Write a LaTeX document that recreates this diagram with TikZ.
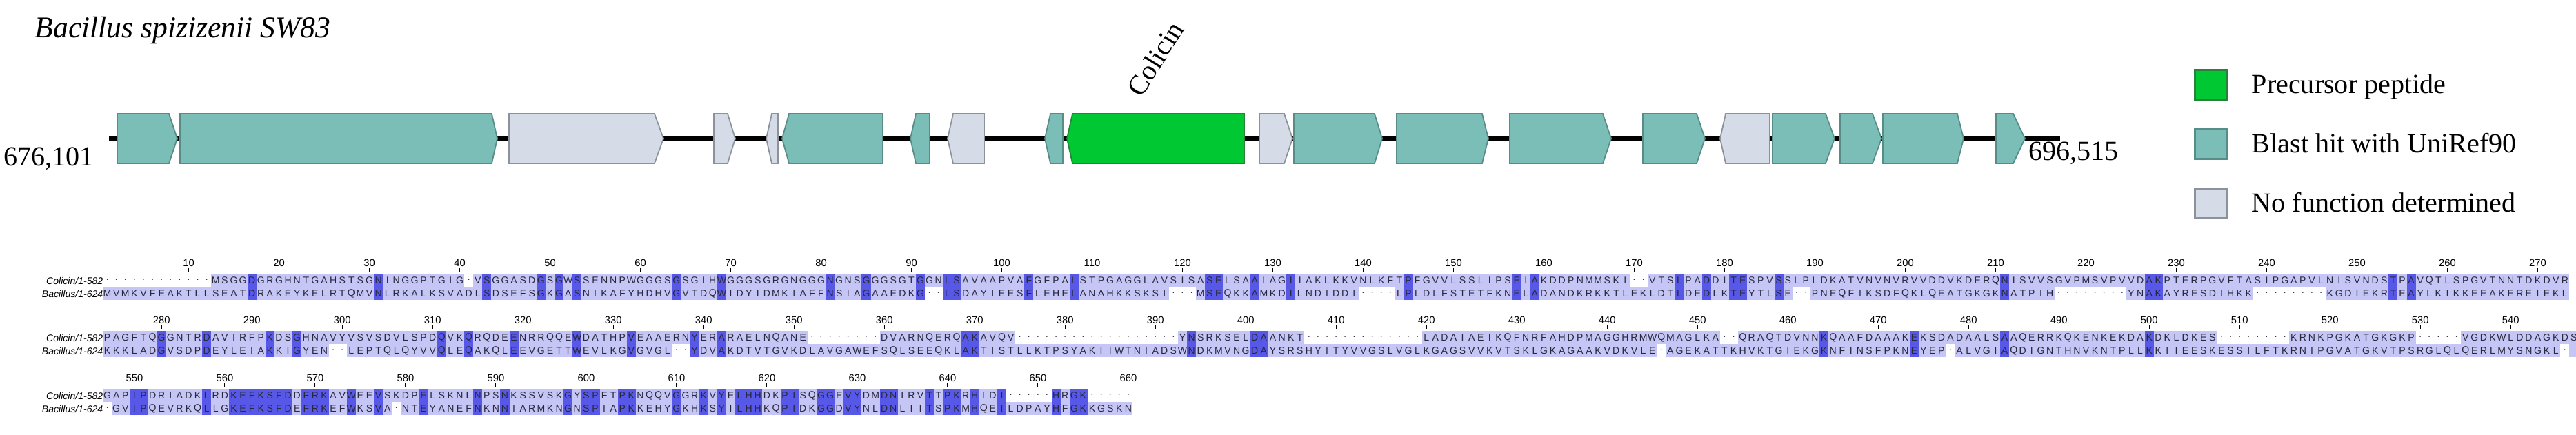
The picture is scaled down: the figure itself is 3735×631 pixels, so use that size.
\documentclass[tikz,border=0pt]{standalone}
\usepackage{fontspec}
\setmainfont{Liberation Serif}
\newfontfamily\alnfont{Liberation Sans}
\definecolor{teal1}{RGB}{122,190,183}
\definecolor{teal2}{RGB}{88,140,134}
\definecolor{grey1}{RGB}{213,220,232}
\definecolor{grey2}{RGB}{140,146,156}
\definecolor{green1}{RGB}{0,200,50}
\definecolor{green2}{RGB}{40,130,60}
\definecolor{alnlight}{RGB}{198,198,246}
\definecolor{alndark}{RGB}{88,88,232}
\definecolor{alntext}{RGB}{40,40,60}
\tikzset{
  teal/.style={fill=teal1,draw=teal2,line width=0.5pt},
  grey/.style={fill=grey1,draw=grey2,line width=0.5pt},
  green/.style={fill=green1,draw=green2,line width=0.5pt},
  legbox/.style={minimum width=13.4pt,minimum height=12.2pt,inner sep=0pt,line width=1pt},
  big/.style={inner sep=0pt,font=\fontsize{11.4pt}{13pt}\selectfont},
  res/.style={inner sep=0pt,text=alntext,font=\alnfont\fontsize{4pt}{5pt}\selectfont},
  num/.style={inner sep=0pt,font=\alnfont\fontsize{4.2pt}{5pt}\selectfont},
  lab/.style={inner sep=0pt,anchor=east,font=\alnfont\itshape\fontsize{4pt}{5pt}\selectfont},
}
\newcommand\gR[4]{\draw[#4] (#1,165) -- (#2,165) -- (#3,201) -- (#2,237) -- (#1,237) -- cycle;}
\newcommand\gL[4]{\draw[#4] (#1,201) -- (#2,165) -- (#3,165) -- (#3,237) -- (#2,237) -- cycle;}
\newcommand\AlnBox[3]{\fill[#3] (#1-6.56,#2-9.5) rectangle (#1+6.56,#2+9.5);}
\newcommand\AlnChar[4]{\node[res,name=#4] at (#1,#3) {#2};}
\newcommand\AlnGap[3]{\node[res,name=#3] at (#1,#2) {\textperiodcentered};}
\ExplSyntaxOn
\str_new:N \l_my_a_str
\str_new:N \l_my_b_str
\str_new:N \l_my_sa_str
\str_new:N \l_my_sb_str
\tl_new:N \l_my_x_tl
\cs_new_protected:Npn \my_cell:nnNN #1#2#3#4
 {
  \str_if_eq:VnTF #3 {-}
   { \exp_args:NV \AlnGap \l_my_x_tl {#1}{#2} }
   {
    \str_if_eq:VVTF #3 #4
     { \exp_args:NV \AlnBox \l_my_x_tl {#1}{alndark} }
     { \exp_args:NV \AlnBox \l_my_x_tl {#1}{alnlight} }
    \exp_args:NVV \AlnChar \l_my_x_tl #3 {#1}{#2}
   }
 }
\NewDocumentCommand \AlnBand { m m m m m }
 {
  \str_set:Nn \l_my_sa_str {#4}
  \str_set:Nn \l_my_sb_str {#5}
  \int_step_inline:nn { \str_count:N \l_my_sa_str }
   {
    \str_set:Nx \l_my_a_str { \str_item:Nn \l_my_sa_str {##1} }
    \str_set:Nx \l_my_b_str { \str_item:Nn \l_my_sb_str {##1} }
    \tl_set:Nx \l_my_x_tl { \fp_eval:n { 155.6 + 13.1 * (##1 - 1) } }
    \my_cell:nnNN {#2} {a#1-##1} \l_my_a_str \l_my_b_str
    \my_cell:nnNN {#3} {b#1-##1} \l_my_b_str \l_my_a_str
   }
 }
\ExplSyntaxOff
\begin{document}
\begin{tikzpicture}[x=0.01cm,y=-0.01cm]
\useasboundingbox (0,0) rectangle (3735,631);
\fill[white] (0,0) rectangle (3735,631);
% title
\node[inner sep=0pt,anchor=base west,font=\fontsize{12.4pt}{14pt}\selectfont\itshape] (title) at (50,55) {Bacillus spizizenii SW83};
% backbone
\coordinate (bbL) at (158,201);
\coordinate (bbR) at (2987,201);
\draw[line width=1.7pt] (bbL) -- (bbR);
\node[big,anchor=base west] (start) at (5,241) {676,101};
\node[big,anchor=base west] (end) at (2941,233) {696,515};
% genes
\gR{170}{245}{257}{teal}
\gR{261}{713}{721}{teal}
\gR{738}{949}{962}{grey}
\gR{1035}{1055}{1066}{grey}
\gL{1111}{1119}{1128}{grey}
\gL{1134}{1144}{1280}{teal}
\gL{1320}{1328}{1348}{teal}
\gL{1374}{1382}{1427}{grey}
\gL{1515}{1523}{1541}{teal}
\gL{1547}{1555}{1804}{green}
\gR{1826}{1862}{1874}{grey}
\gR{1876}{1993}{2004}{teal}
\gR{2025}{2149}{2158}{teal}
\gR{2189}{2324}{2336}{teal}
\gR{2382}{2460}{2472}{teal}
\gL{2494}{2502}{2566}{grey}
\gR{2570}{2647}{2660}{teal}
\gR{2668}{2715}{2728}{teal}
\gR{2730}{2838}{2847}{teal}
\gR{2894}{2919}{2936}{teal}
\node[big,anchor=base west,rotate=58] (colicin) at (1655,143) {Colicin};
% legend
\node[green,legbox] (lg1) at (3206,123) {};
\node[teal,legbox] (lg2) at (3206,209) {};
\node[grey,legbox] (lg3) at (3206,295) {};
\node[big,anchor=base west] (lt1) at (3264,136) {Precursor peptide};
\node[big,anchor=base west] (lt2) at (3264,222) {Blast hit with UniRef90};
\node[big,anchor=base west] (lt3) at (3264,308) {No function determined};
% alignment labels
\node[lab] (la1) at (150,407) {Colicin/1-582};
\node[lab] (lb1) at (150,426) {Bacillus/1-624};
\node[lab] (la2) at (150,490) {Colicin/1-582};
\node[lab] (lb2) at (150,509) {Bacillus/1-624};
\node[lab] (la3) at (150,574) {Colicin/1-582};
\node[lab] (lb3) at (150,593) {Bacillus/1-624};
% ticks
\foreach \p in {10,20,...,270} {\draw[line width=0.3pt] ({155.6+13.1*(\p-1)},389) -- ++(0,5); \node[num] (n\p) at ({155.6+13.1*(\p-1)},381) {\p};}
\foreach \p in {280,290,...,540} {\draw[line width=0.3pt] ({155.6+13.1*(\p-274)},472) -- ++(0,5); \node[num] (n\p) at ({155.6+13.1*(\p-274)},464) {\p};}
\foreach \p in {550,560,...,660} {\draw[line width=0.3pt] ({155.6+13.1*(\p-547)},556) -- ++(0,5); \node[num] (n\p) at ({155.6+13.1*(\p-547)},548) {\p};}
% alignment
\AlnBand{1}{407}{426}{------------MSGGDGRGHNTGAHSTSGNINGGPTGIG-VSGGASDGSGWSSENNPWGGGSGSGIHWGGGSGRGNGGGNGNSGGGSGTGGNLSAVAAPVAFGFPALSTPGAGGLAVSISASELSAAIAGIIAKLKKVNLKFTPFGVVLSSLIPSEIAKDDPNMMSKI--VTSLPADDITESPVSSLPLDKATVNVNVRVVDDVKDERQNISVVSGVPMSVPVVDAKPTERPGVFTASIPGAPVLNISVNDSTPAVQTLSPGVTNNTDKDVR}{MVMKVFEAKTLLSEATDRAKEYKELRTQMVNLRKALKSVADLSDSEFSGKGASNIKAFYHDHVGVTDQWIDYIDMKIAFFNSIAGAAEDKG--LSDAYIEESFLEHELANAHKKSKSI---MSEQKKAMKDILNDIDDI----LPLDLFSTETFKNELADANDKRKKTLEKLDTLDEDLKTEYTLSE--PNEQFIKSDFQKLQEATGKGKNATPIH--------YNAKAYRESDIHKK--------KGDIEKRTEAYLKIKKEEAKEREIEKL}
\AlnBand{2}{490}{509}{PAGFTQGGNTRDAVIRFPKDSGHNAVYVSVSDVLSPDQVKQRQDEENRRQQEWDATHPVEAAERNYERARAELNQANE--------DVARNQERQAKAVQV------------------YNSRKSELDAANKT-------------LADAIAEIKQFNRFAHDPMAGGHRMWQMAGLKA--QRAQTDVNNKQAAFDAAAKEKSDADAALSAAQERRKQKENKEKDAKDKLDKES--------KRNKPGKATGKGKP-----VGDKWLDDAGKDS}{KKKLADGVSDPDEYLEIAKKIGYEN--LEPTQLQYVVQLEQAKQLEEVGETTWEVLKGVGVGL--YDVAKDTVTGVKDLAVGAWEFSQLSEEQKLAKTISTLLKTPSYAKIIWTNIADSWNDKMVNGDAYSRSHYITYVVGSLVGLKGAGSVVKVTSKLGKAGAAKVDKVLE-AGEKATTKHVKTGIEKGKNFINSFPKNEYEP-ALVGIAQDIGNTHNVKNTPLLKKIIEESKESSILFTKRNIPGVATGKVTPSRGLQLQERLMYSNGKL-}
\AlnBand{3}{574}{593}{GAPIPDRIADKLRDKEFKSFDDFRKAVWEEVSKDPELSKNLNPSNKSSVSKGYSPFTPKNQQVGGRKVYELHHDKPISQGGEVYDMDNIRVTTPKRHIDI-----HRGK-----}{-GVIPQEVRKQLLGKEFKSFDEFRKEFWKSVA-NTEYANEFNKNNIARMKNGNSPIAPKKEHYGKHKSYILHHKQPIDKGGDVYNLDNLIITSPKMHQEILDPAYHFGKKGSKN}
\end{tikzpicture}
\end{document}
